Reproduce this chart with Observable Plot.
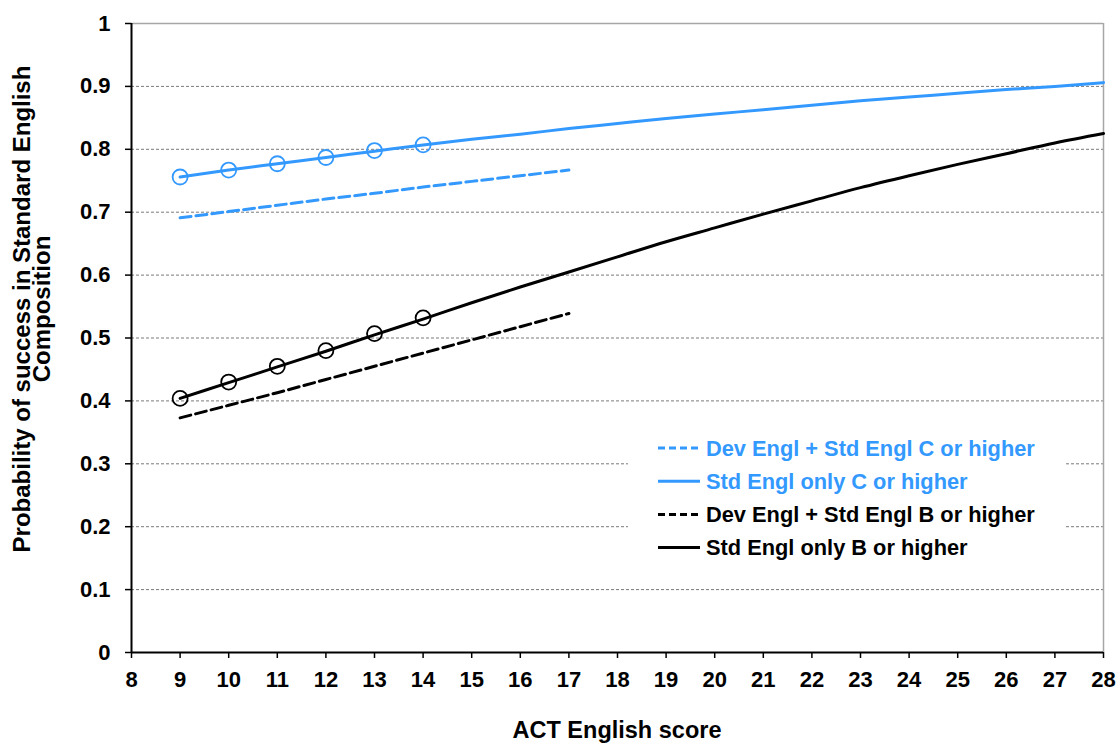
<!DOCTYPE html>
<html>
<head>
<meta charset="utf-8">
<script src="https://cdn.jsdelivr.net/npm/d3@7"></script>
<script src="https://cdn.jsdelivr.net/npm/@observablehq/plot@0.6"></script>
<style>
  html, body { margin: 0; padding: 0; background: #fff; }
  #chart { width: 1120px; height: 744px; }
</style>
</head>
<body>
<div id="chart"></div>
<script>
// ---- data ----
const xFull = [9,10,11,12,13,14,15,16,17,18,19,20,21,22,23,24,25,26,27,28];
const stdOnlyC = [0.756,0.767,0.777,0.787,0.797,0.807,0.816,0.824,0.833,0.841,0.849,0.856,0.863,0.870,0.877,0.883,0.889,0.895,0.900,0.906];
const stdOnlyB = [0.404,0.429,0.454,0.479,0.505,0.530,0.556,0.581,0.605,0.629,0.653,0.675,0.697,0.718,0.739,0.758,0.776,0.793,0.810,0.825];
const xDev = [9,10,11,12,13,14,15,16,17];
const devC = [0.691,0.701,0.711,0.721,0.730,0.740,0.749,0.758,0.767];
const devB = [0.373,0.393,0.413,0.434,0.455,0.476,0.497,0.518,0.539];
const xObs = [9,10,11,12,13,14];
const obsC = [0.756,0.767,0.777,0.787,0.798,0.807];
const obsB = [0.404,0.430,0.455,0.480,0.507,0.532];
const xTicks = [8,9,10,11,12,13,14,15,16,17,18,19,20,21,22,23,24,25,26,27,28];
const yTicks = [0,0.1,0.2,0.3,0.4,0.5,0.6,0.7,0.8,0.9,1];
const yTickLabels = ["0","0.1","0.2","0.3","0.4","0.5","0.6","0.7","0.8","0.9","1"];
const gridVals = [0.1,0.2,0.3,0.4,0.5,0.6,0.7,0.8,0.9];
const seriesNames = [
  "Dev Engl + Std Engl C or higher",
  "Std Engl only C or higher",
  "Dev Engl + Std Engl B or higher",
  "Std Engl only B or higher"
];
const xTitle = "ACT English score";
const yTitleLines = ["Probability of success in Standard English", "Composition"];

const BLUE = "#3399ff";
const BLACK = "#000000";
const FONT = "'Liberation Sans', Arial, Helvetica, sans-serif";

const toRows = (xs, ys) => xs.map((x, i) => ({x, y: ys[i]}));

const plot = Plot.plot({
  width: 1120,
  height: 744,
  marginLeft: 131,
  marginRight: 17,
  marginTop: 23,
  marginBottom: 92,
  style: {fontFamily: FONT, fontSize: "22px", fontWeight: "bold", color: "black", background: "white", overflow: "visible"},
  x: {domain: [8, 28]},
  y: {domain: [0, 1]},
  marks: [
    Plot.ruleY(gridVals, {stroke: "#7a7a7a", strokeWidth: 1, strokeDasharray: "3,2"}),
    Plot.ruleY([1], {stroke: "#a6a6a6", strokeWidth: 1.5}),
    Plot.ruleX([28], {stroke: "#a6a6a6", strokeWidth: 1.5}),
    Plot.line(toRows(xDev, devC), {x: "x", y: "y", stroke: BLUE, strokeWidth: 3, strokeDasharray: "11,5"}),
    Plot.line(toRows(xFull, stdOnlyC), {x: "x", y: "y", stroke: BLUE, strokeWidth: 3, curve: "monotone-x"}),
    Plot.line(toRows(xDev, devB), {x: "x", y: "y", stroke: BLACK, strokeWidth: 3, strokeDasharray: "11,5"}),
    Plot.line(toRows(xFull, stdOnlyB), {x: "x", y: "y", stroke: BLACK, strokeWidth: 3, curve: "monotone-x"}),
    Plot.dot(toRows(xObs, obsC), {x: "x", y: "y", r: 7.5, stroke: BLUE, strokeWidth: 1.8, fill: "none"}),
    Plot.dot(toRows(xObs, obsB), {x: "x", y: "y", r: 7.5, stroke: BLACK, strokeWidth: 1.8, fill: "none"}),
    Plot.ruleX([8], {stroke: "black", strokeWidth: 2}),
    Plot.ruleY([0], {stroke: "black", strokeWidth: 2}),
    Plot.axisX({ticks: xTicks, tickSize: 6, tickPadding: 13, strokeWidth: 1.5, fontSize: 22, fontWeight: "bold", tickFormat: d => String(d), label: null}),
    Plot.axisY({ticks: yTicks, tickSize: 6, tickPadding: 15, strokeWidth: 1.5, fontSize: 22, fontWeight: "bold", tickFormat: d => yTickLabels[yTicks.indexOf(d)] ?? String(d), label: null})
  ]
});

document.getElementById("chart").appendChild(plot);

// ---- titles and legend ----
const svg = d3.select(plot);

svg.append("text")
  .attr("x", 617).attr("y", 738)
  .attr("text-anchor", "middle")
  .attr("font-family", FONT).attr("font-weight", "bold").attr("font-size", 23.5)
  .attr("fill", "black")
  .text(xTitle);

const yt = svg.append("text")
  .attr("transform", "translate(30,309) rotate(-90)")
  .attr("text-anchor", "middle")
  .attr("font-family", FONT).attr("font-weight", "bold").attr("font-size", 24)
  .attr("fill", "black");
yTitleLines.forEach((line, i) => {
  yt.append("tspan").attr("x", 0).attr("dy", i === 0 ? 0 : 20).text(line);
});

const legendColors = [BLUE, BLUE, BLACK, BLACK];
const legendDash = ["7,4", null, "7,4", null];
const lg = svg.append("g");
lg.append("rect").attr("x", 628).attr("y", 428).attr("width", 437).attr("height", 140).attr("fill", "white");
seriesNames.forEach((name, i) => {
  const cy = 448 + i * 33.2;
  const ln = lg.append("line")
    .attr("x1", 658).attr("x2", 700).attr("y1", cy).attr("y2", cy)
    .attr("stroke", legendColors[i]).attr("stroke-width", 3);
  if (legendDash[i]) ln.attr("stroke-dasharray", legendDash[i]);
  lg.append("text")
    .attr("x", 706).attr("y", cy + 7.5)
    .attr("text-anchor", "start")
    .attr("font-family", FONT).attr("font-weight", "bold").attr("font-size", 21.8)
    .attr("fill", legendColors[i])
    .text(name);
});
</script>
</body>
</html>
